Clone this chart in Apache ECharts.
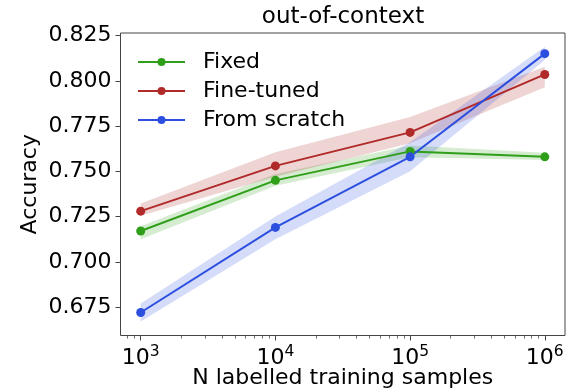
<!DOCTYPE html>
<html>
<head>
<meta charset="utf-8">
<script src="https://cdn.jsdelivr.net/npm/echarts@6/dist/echarts.min.js"></script>
<style>
  html, body { margin: 0; padding: 0; background: #fff; }
  #chart { width: 588px; height: 391px; }
</style>
</head>
<body>
<div id="chart"></div>
<script>
// Training-set sizes (x, log scale)
const samples = [1e3, 1e4, 1e5, 1e6];

// Mean accuracy and confidence band per model variant
const fixedMean = [0.717, 0.745, 0.761, 0.758];
const fixedLo   = [0.7125, 0.7420, 0.7578, 0.7563];
const fixedHi   = [0.7197, 0.7485, 0.7642, 0.7603];

const fineMean  = [0.728, 0.753, 0.7715, 0.8035];
const fineLo    = [0.7255, 0.7470, 0.7655, 0.7965];
const fineHi    = [0.7322, 0.7605, 0.7800, 0.8078];

const scratchMean = [0.672, 0.719, 0.758, 0.815];
const scratchLo   = [0.6670, 0.7125, 0.7500, 0.8115];
const scratchHi   = [0.6770, 0.7250, 0.7660, 0.8188];

// Tick positions
const xMajorTicks = [1e3, 1e4, 1e5, 1e6];
const xMinorTicks = [];
[1e2, 1e3, 1e4, 1e5, 1e6].forEach(d => { for (let k = 2; k <= 9; k++) xMinorTicks.push(k * d); });
const yTicks = [0.675, 0.700, 0.725, 0.750, 0.775, 0.800, 0.825];

const FONT = 'DejaVu Sans';
const AXIS_COLOR = '#444';
const colors = { fixed: '#2f9f1a', fine: '#b02a2a', scratch: '#2c4fe0' };

function pairs(ys) { return samples.map((n, i) => [n, ys[i]]); }

// Shaded confidence band: one polygon through the lower edge and back along the upper edge
function band(key, lo, hi, color) {
  return {
    name: key + '-band', type: 'custom', silent: true, z: 1,
    xAxisIndex: 0, yAxisIndex: 0,
    data: samples.map((n, i) => [n, lo[i], hi[i]]),
    encode: { x: 0, y: [1, 2] },
    renderItem: function (params, api) {
      if (params.dataIndex !== 0) return;
      const pts = [];
      for (let i = 0; i < samples.length; i++) pts.push(api.coord([samples[i], lo[i]]));
      for (let i = samples.length - 1; i >= 0; i--) pts.push(api.coord([samples[i], hi[i]]));
      return {
        type: 'polygon',
        shape: { points: pts },
        style: { fill: color, opacity: 0.2 }
      };
    }
  };
}

function mainLine(name, ys, color) {
  return {
    name: name, type: 'line', data: pairs(ys),
    symbol: 'circle', symbolSize: 9, showSymbol: true,
    itemStyle: { color: color },
    lineStyle: { color: color, width: 2 },
    z: 3, xAxisIndex: 0, yAxisIndex: 0
  };
}

const xMin = Math.pow(10, 2.85), xMax = Math.pow(10, 6.15);

const option = {
  animation: false,
  backgroundColor: '#fff',
  textStyle: { fontFamily: FONT },
  title: {
    text: 'out-of-context',
    left: 338, top: 1, textAlign: 'center',
    textStyle: { fontFamily: FONT, fontSize: 23, fontWeight: 'normal', color: '#000' }
  },
  grid: {
    left: 120.5, right: 23, top: 33, bottom: 55.5,
    outerBoundsMode: 'none', containLabel: false,
    show: true, borderColor: AXIS_COLOR, borderWidth: 1, backgroundColor: 'transparent'
  },
  legend: {
    data: ['Fixed', 'Fine-tuned', 'From scratch'],
    orient: 'vertical', left: 132, top: 46,
    itemWidth: 47, itemHeight: 10, itemGap: 7,
    textStyle: { fontFamily: FONT, fontSize: 22, color: '#000', padding: [0, 0, 0, 13] }
  },
  xAxis: [
    {
      type: 'log', logBase: 10, min: xMin, max: xMax,
      name: 'N labelled training samples', nameLocation: 'middle', nameGap: 32,
      nameMoveOverlap: false,
      nameTextStyle: { fontFamily: FONT, fontSize: 22, color: '#000' },
      axisLine: { show: false },
      axisTick: { show: true, customValues: xMajorTicks, length: 5, lineStyle: { color: AXIS_COLOR, width: 1 } },
      axisLabel: {
        customValues: xMajorTicks, margin: 8, color: '#000',
        formatter: v => '{b|10}{e|' + Math.round(Math.log10(v)) + '}',
        rich: {
          b: { fontFamily: FONT, fontSize: 22, color: '#000', verticalAlign: 'bottom' },
          e: { fontFamily: FONT, fontSize: 15.5, color: '#000', verticalAlign: 'bottom', padding: [0, 0, 10, 0] }
        }
      },
      splitLine: { show: false }
    },
    {
      type: 'log', logBase: 10, min: xMin, max: xMax, position: 'bottom',
      axisLine: { show: false },
      axisTick: { show: true, customValues: xMinorTicks, length: 3, lineStyle: { color: AXIS_COLOR, width: 0.8 } },
      axisLabel: { show: false },
      splitLine: { show: false }
    }
  ],
  yAxis: {
    type: 'value', min: 0.6593, max: 0.8264,
    name: 'Accuracy', nameLocation: 'middle', nameGap: 79,
    nameMoveOverlap: false,
    nameTextStyle: { fontFamily: FONT, fontSize: 22, color: '#000' },
    axisLine: { show: false },
    axisTick: { show: true, customValues: yTicks, length: 5, lineStyle: { color: AXIS_COLOR, width: 1 } },
    axisLabel: {
      customValues: yTicks, margin: 9, color: '#000',
      fontFamily: FONT, fontSize: 22,
      formatter: v => v.toFixed(3)
    },
    splitLine: { show: false }
  },
  series: [
    band('fixed', fixedLo, fixedHi, colors.fixed),
    mainLine('Fixed', fixedMean, colors.fixed),
    band('fine', fineLo, fineHi, colors.fine),
    mainLine('Fine-tuned', fineMean, colors.fine),
    band('scratch', scratchLo, scratchHi, colors.scratch),
    mainLine('From scratch', scratchMean, colors.scratch)
  ]
};

const chart = echarts.init(document.getElementById('chart'), null, { renderer: 'canvas' });
chart.setOption(option);
</script>
</body>
</html>
